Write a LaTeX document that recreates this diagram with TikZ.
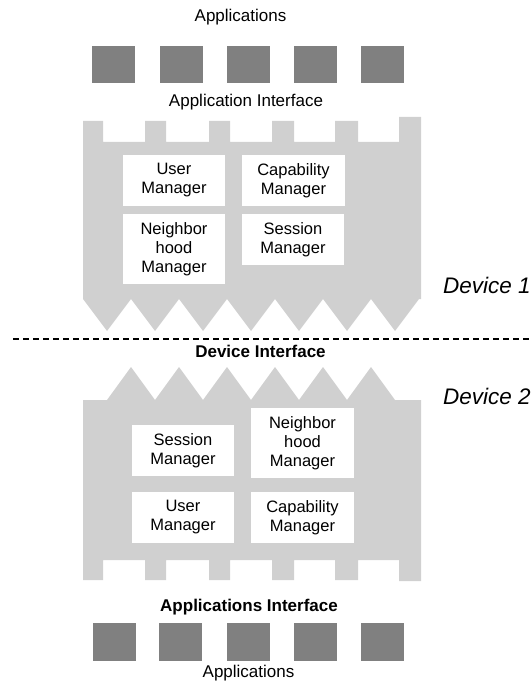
\documentclass[tikz,border=0pt]{standalone}
\usepackage{fontspec}
\setmainfont{Liberation Sans}
\definecolor{devgray}{RGB}{208,208,208}
\definecolor{appgray}{RGB}{128,128,128}
\begin{document}
\begin{tikzpicture}[x=1pt,y=-1pt,
  devshape/.style={fill=devgray,draw=none},
  appsq/.style={fill=appgray,draw=none,minimum width=43pt,minimum height=37pt,inner sep=0pt},
  mgr/.style={fill=white,draw=none,align=center,inner sep=0pt,minimum width=102pt,font=\fontsize{16.5}{19}\selectfont},
  lbl/.style={anchor=base,inner sep=0pt,font=\fontsize{17}{20}\selectfont},
  blbl/.style={lbl,font=\fontsize{17}{20}\selectfont\bfseries},
  devlbl/.style={anchor=base west,inner sep=0pt,font=\fontsize{22.5}{25}\selectfont\itshape}]
\useasboundingbox (0,0) rectangle (530,692);

% ---- top labels and applications
\node[lbl] (appsTop) at (240.5,22) {Applications};
\foreach \i/\x in {1/113.5,2/181.5,3/248,4/315.5,5/382.5}
  \node[appsq] (ta\i) at (\x,64.5) {};
\node[lbl] (aiTop) at (246,107) {Application Interface};

% ---- device 1 shape
\path[devshape] (83,121) -- (103,121) -- (103,142) -- (145,142) -- (145,121) -- (166,121) -- (166,142)
  -- (209,142) -- (209,121) -- (230,121) -- (230,142) -- (272,142) -- (272,121) -- (294,121) -- (294,142)
  -- (335,142) -- (335,121) -- (358,121) -- (358,142) -- (399,142) -- (399,117) -- (421,117)
  -- (421,299) -- (419,299) -- (395,331) -- (371,299) -- (347,331) -- (323,299) -- (299,331) -- (275,299)
  -- (251,331) -- (227,299) -- (203,331) -- (179,299) -- (155,331) -- (131,299) -- (107,331) -- (83,299) -- cycle;

\node[mgr,minimum width=102pt,minimum height=51pt] (um1) at (174,180.5) {User\\Manager};
\node[mgr,minimum width=103pt,minimum height=51pt] (cm1) at (293.5,180.5) {Capability\\Manager};
\node[mgr,minimum width=102pt,minimum height=70pt] (nm1) at (174,249) {Neighbor\\hood\\Manager};
\node[mgr,minimum width=102pt,minimum height=51pt] (sm1) at (293,239.5) {Session\\Manager};

\node[devlbl] (dev1) at (443,293) {Device 1};

% ---- dashed separator
\coordinate (dl) at (13,339);
\coordinate (dr) at (530,339);
\draw[line width=1.3pt,dash pattern=on 6pt off 4pt] (dl) -- (dr);
\node[blbl] (di) at (260.5,357) {Device Interface};

\node[devlbl] (dev2) at (443,404) {Device 2};

% ---- device 2 shape
\path[devshape] (83,400) -- (107,400) -- (131,367) -- (155,400) -- (179,367) -- (203,400) -- (227,367)
  -- (251,400) -- (275,367) -- (299,400) -- (323,367) -- (347,400) -- (371,367) -- (395,400) -- (421,400)
  -- (421,581) -- (399,581) -- (399,560) -- (358,560) -- (358,580) -- (335,580) -- (335,560) -- (294,560)
  -- (294,580) -- (272,580) -- (272,560) -- (230,560) -- (230,580) -- (209,580) -- (209,560) -- (166,560)
  -- (166,580) -- (145,580) -- (145,560) -- (103,560) -- (103,580) -- (83,580) -- cycle;

\node[mgr,minimum width=102pt,minimum height=51pt] (sm2) at (183,450.5) {Session\\Manager};
\node[mgr,minimum width=103pt,minimum height=70pt] (nm2) at (302.5,443) {Neighbor\\hood\\Manager};
\node[mgr,minimum width=102pt,minimum height=51pt] (um2) at (183,517.5) {User\\Manager};
\node[mgr,minimum width=103pt,minimum height=51pt] (cm2) at (302.5,517.5) {Capability\\Manager};

% ---- bottom labels and applications
\node[blbl] (aiBot) at (249,611) {Applications Interface};
\foreach \i/\x in {1/114,2/180.5,3/248,4/315,5/382}
  \node[appsq,minimum height=38pt] (ba\i) at (\x,642) {};
\node[lbl] (appsBot) at (248.5,677) {Applications};
\end{tikzpicture}
\end{document}
